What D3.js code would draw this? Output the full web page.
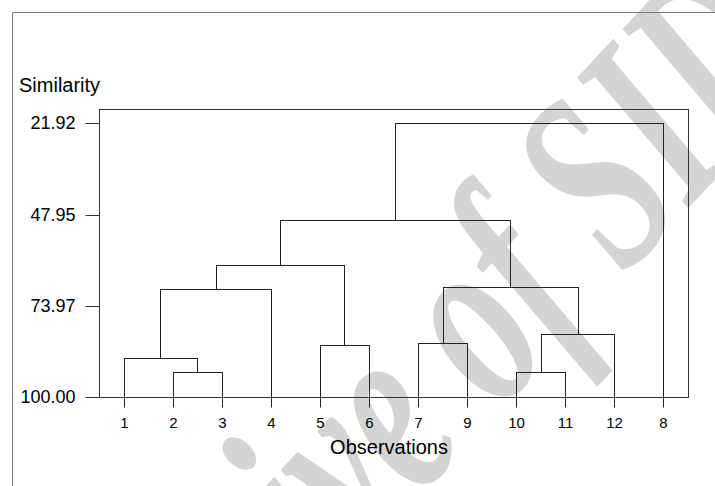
<!DOCTYPE html>
<html>
<head>
<meta charset="utf-8">
<script src="https://cdn.jsdelivr.net/npm/d3@7"></script>
<style>
  html, body { margin: 0; padding: 0; background: #fff; }
  svg { display: block; }
</style>
</head>
<body>
<svg id="chart" width="715" height="486"></svg>
<script>
// ---- data ----
const leafOrder = ["1", "2", "3", "4", "5", "6", "7", "9", "10", "11", "12", "8"];
// merge steps: ids "mK" refer to the K-th merge below
const mergeLeft  = ["2",  "10", "1",  "5",  "7",  "m1", "m2", "m4", "m6", "m8", "m9"];
const mergeRight = ["3",  "11", "m0", "6",  "9",  "12", "4",  "m5", "m3", "m7", "8"];
const mergeSimilarity = [92.95, 92.8, 88.97, 85.27, 84.7, 82.05, 69.14, 68.56, 62.3, 49.56, 21.92];
const yTickValues = [21.92, 47.95, 73.97, 100.00];

const sans = "'Liberation Sans', Arial, Helvetica, sans-serif";
const svg = d3.select("#chart");

// watermark (behind everything)
svg.append("g")
  .attr("transform", "translate(289,465) rotate(-7) translate(-210,-400)")
  .append("text")
  .attr("transform", "translate(-29,753) rotate(-40) scale(0.656,1)")
  .style("font-family", "'Liberation Serif', 'Times New Roman', serif")
  .style("font-style", "italic")
  .style("font-weight", "bold")
  .style("font-size", "260px")
  .attr("fill", "#d4d4d4")
  .text("Archive of SID");

// outer frame
svg.append("path")
  .attr("d", "M12.5,500 V12.5 H720")
  .attr("fill", "none")
  .attr("stroke", "#777")
  .attr("stroke-width", 1);

const frame = { left: 99, top: 109, right: 688, bottom: 397 };

const x = d3.scalePoint()
  .domain(leafOrder)
  .range([frame.left, frame.right])
  .padding(0.5);

const y = d3.scaleLinear()
  .domain([21.92, 100])
  .range([123.3, frame.bottom]);

const crisp = v => Math.round(v) + 0.5;

// plot frame
svg.append("rect")
  .attr("x", frame.left + 0.5)
  .attr("y", frame.top + 0.5)
  .attr("width", frame.right - frame.left)
  .attr("height", frame.bottom - frame.top)
  .attr("fill", "none")
  .attr("stroke", "#333");

// y axis
const yAxis = d3.axisLeft(y)
  .tickValues(yTickValues)
  .tickSize(14)
  .tickPadding(10)
  .tickFormat(d3.format(".2f"));
const gy = svg.append("g")
  .attr("transform", `translate(${frame.left + 0.5},0)`)
  .call(yAxis);
gy.select(".domain").remove();
gy.selectAll(".tick").attr("transform", d => `translate(0,${crisp(y(d)) - 0.5})`);
gy.selectAll(".tick line").attr("stroke", "#333").attr("y1", 0.5).attr("y2", 0.5);
gy.selectAll(".tick text")
  .style("font-family", sans)
  .style("font-size", "18px")
  .attr("fill", "#000");

// x axis (leaf labels)
const xAxis = d3.axisBottom(x).tickSize(10).tickPadding(10);
const gx = svg.append("g")
  .attr("transform", `translate(0,${frame.bottom + 0.5})`)
  .call(xAxis);
gx.select(".domain").remove();
gx.selectAll(".tick").attr("transform", d => `translate(${crisp(x(d))},0)`);
gx.selectAll(".tick line").attr("stroke", "#222");
gx.selectAll(".tick text")
  .style("font-family", sans)
  .style("font-size", "15px")
  .attr("fill", "#000");

// dendrogram
const nodes = {};
leafOrder.forEach(id => { nodes[id] = { x: x(id), s: 100 }; });
const segs = [];
mergeLeft.forEach((a, i) => {
  const b = mergeRight[i];
  const na = nodes[a], nb = nodes[b];
  const s = mergeSimilarity[i];
  segs.push([na.x, y(na.s), na.x, y(s)]);
  segs.push([nb.x, y(nb.s), nb.x, y(s)]);
  segs.push([na.x, y(s), nb.x, y(s)]);
  nodes["m" + i] = { x: (na.x + nb.x) / 2, s: s };
});
svg.append("g")
  .selectAll("line")
  .data(segs)
  .join("line")
  .attr("x1", d => crisp(d[0]))
  .attr("y1", d => crisp(d[1]))
  .attr("x2", d => crisp(d[2]))
  .attr("y2", d => crisp(d[3]))
  .attr("stroke", "#222")
  .attr("stroke-width", 1)
  .attr("stroke-linecap", "square");

// axis titles
svg.append("text")
  .attr("x", 19)
  .attr("y", 92)
  .style("font-family", sans)
  .style("font-size", "20px")
  .attr("fill", "#000")
  .text("Similarity");

svg.append("text")
  .attr("x", 389)
  .attr("y", 454)
  .attr("text-anchor", "middle")
  .style("font-family", sans)
  .style("font-size", "20px")
  .attr("fill", "#000")
  .text("Observations");
</script>
</body>
</html>
